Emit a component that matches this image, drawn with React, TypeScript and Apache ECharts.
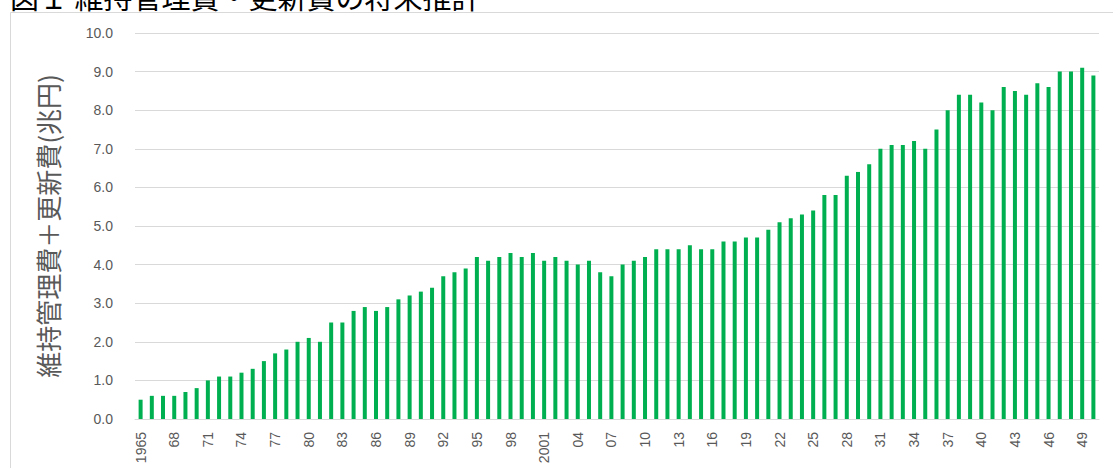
import React, { useEffect, useRef } from "react";
import * as echarts from "echarts";

const years: string[] = [
  "1965", "66", "67", "68", "69", "70", "71", "72", "73", "74",
  "75", "76", "77", "78", "79", "80", "81", "82", "83", "84",
  "85", "86", "87", "88", "89", "90", "91", "92", "93", "94",
  "95", "96", "97", "98", "99", "2000", "2001", "02", "03", "04",
  "05", "06", "07", "08", "09", "10", "11", "12", "13", "14",
  "15", "16", "17", "18", "19", "20", "21", "22", "23", "24",
  "25", "26", "27", "28", "29", "30", "31", "32", "33", "34",
  "35", "36", "37", "38", "39", "40", "41", "42", "43", "44",
  "45", "46", "47", "48", "49", "50",
];

const costs: number[] = [
  0.5, 0.6, 0.6, 0.6, 0.7, 0.8, 1.0, 1.1, 1.1, 1.2,
  1.3, 1.5, 1.7, 1.8, 2.0, 2.1, 2.0, 2.5, 2.5, 2.8,
  2.9, 2.8, 2.9, 3.1, 3.2, 3.3, 3.4, 3.7, 3.8, 3.9,
  4.2, 4.1, 4.2, 4.3, 4.2, 4.3, 4.1, 4.2, 4.1, 4.0,
  4.1, 3.8, 3.7, 4.0, 4.1, 4.2, 4.4, 4.4, 4.4, 4.5,
  4.4, 4.4, 4.6, 4.6, 4.7, 4.7, 4.9, 5.1, 5.2, 5.3,
  5.4, 5.8, 5.8, 6.3, 6.4, 6.6, 7.0, 7.1, 7.1, 7.2,
  7.0, 7.5, 8.0, 8.4, 8.4, 8.2, 8.0, 8.6, 8.5, 8.4,
  8.7, 8.6, 9.0, 9.0, 9.1, 8.9,
];

const titleText = "図１ 維持管理費・更新費の将来推計";
const yAxisTitle = "維持管理費＋更新費(兆円)";

export default function App() {
  const ref = useRef<HTMLDivElement>(null);
  useEffect(() => {
    if (!ref.current) return;
    const chart = echarts.init(ref.current, undefined, { renderer: "svg" });
    chart.setOption({
      animation: false,
      backgroundColor: "#ffffff",
      grid: { left: 135, right: 14, top: 33, bottom: 49, containLabel: false },
      graphic: [
        {
          type: "rect",
          silent: true,
          shape: { x: 10.5, y: 12.5, width: 1300, height: 600 },
          style: { fill: "none", stroke: "#d9d9d9", lineWidth: 1 },
        },
        {
          type: "text",
          x: 10,
          y: 10,
          silent: true,
          style: {
            text: titleText,
            fontSize: 29,
            fontFamily: "Noto Sans CJK JP",
            fill: "#000000",
            textVerticalAlign: "bottom",
            verticalAlign: "bottom",
          },
        },
      ],
      xAxis: {
        type: "category",
        data: years,
        axisLine: { lineStyle: { color: "#d9d9d9" } },
        axisTick: { show: false },
        axisLabel: {
          interval: 2,
          rotate: 90,
          margin: 13,
          color: "#595959",
          fontSize: 14,
          fontFamily: "Liberation Sans",
        },
      },
      yAxis: {
        type: "value",
        min: 0,
        max: 10,
        interval: 1,
        name: yAxisTitle,
        nameLocation: "middle",
        nameRotate: 90,
        nameGap: 75,
        nameTextStyle: {
          color: "#595959",
          fontSize: 26,
          fontFamily: "Noto Sans CJK JP",
        },
        axisLine: { show: false },
        axisTick: { show: false },
        splitLine: { lineStyle: { color: "#d9d9d9" } },
        axisLabel: {
          color: "#595959",
          fontSize: 14,
          margin: 22,
          fontFamily: "Liberation Sans",
          formatter: (v: number) => v.toFixed(1),
        },
      },
      series: [
        {
          type: "bar",
          data: costs,
          barWidth: 4,
          itemStyle: { color: "#00b050" },
        },
      ],
    });
    return () => chart.dispose();
  }, []);
  return (
    <div
      ref={ref}
      style={{ position: "absolute", left: 0, top: 0, width: 1113, height: 468 }}
    />
  );
}
